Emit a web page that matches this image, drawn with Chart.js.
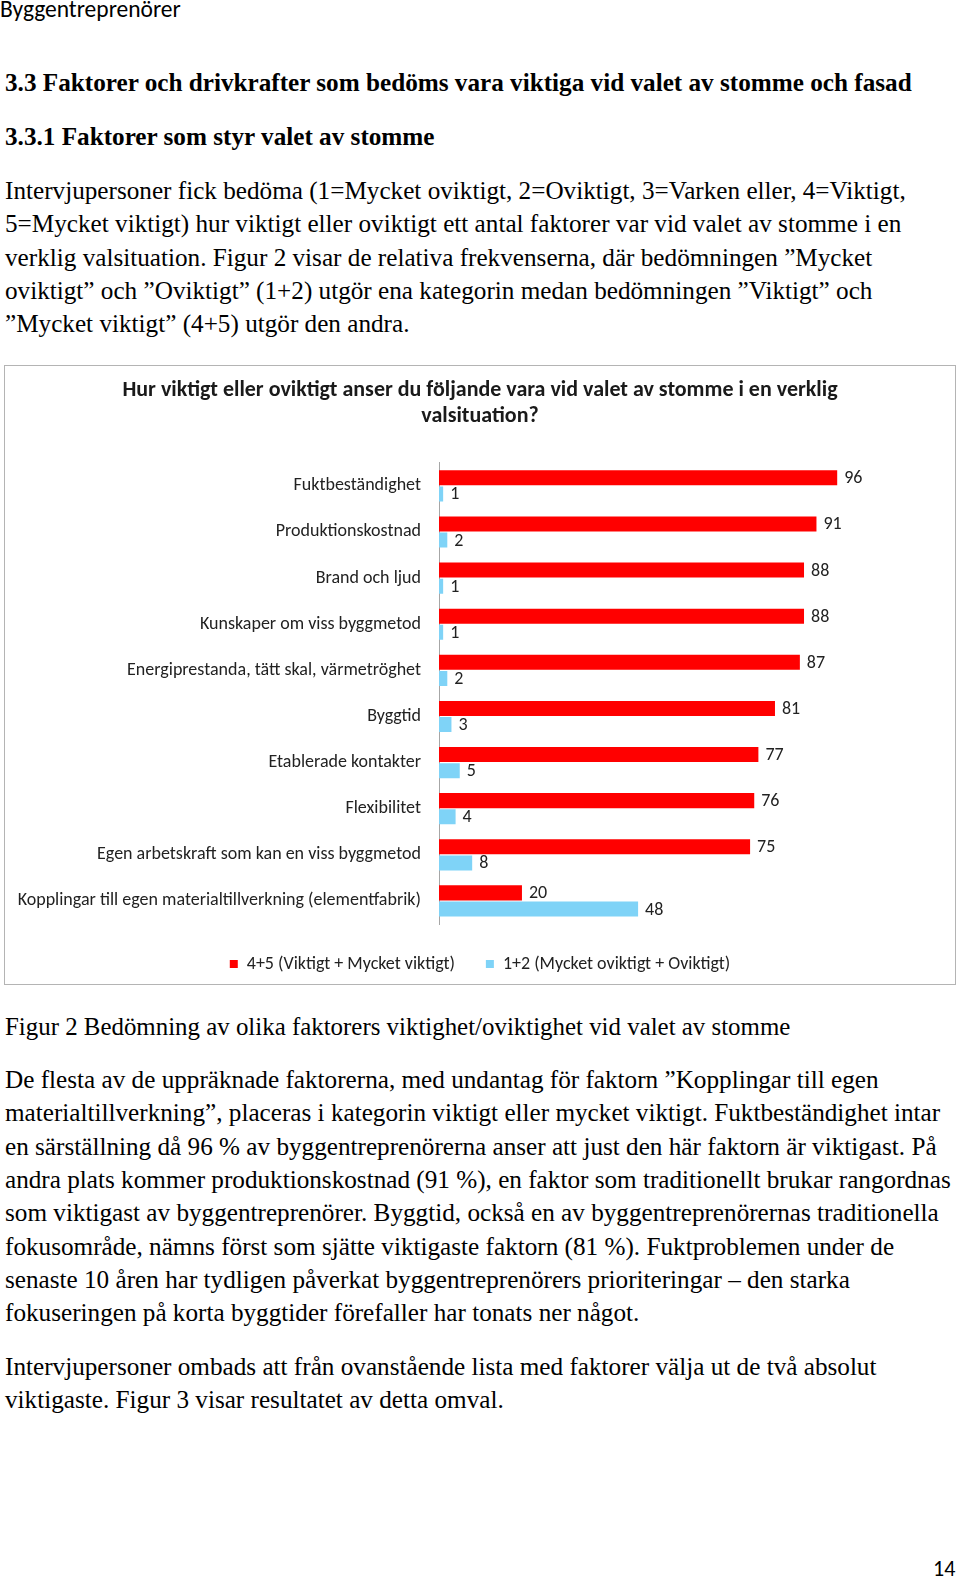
<!DOCTYPE html>
<html lang="sv">
<head>
<meta charset="utf-8">
<title>Faktorer som styr valet av stomme</title>
<script src="https://cdn.jsdelivr.net/npm/chart.js@4.4.1/dist/chart.umd.min.js"></script>
<style>
  html, body { margin: 0; padding: 0; background: #fff; }
  body { position: relative; width: 960px; height: 1581px; overflow: hidden; color: #000; }
  .sans { font-family: Carlito, Calibri, Lato, sans-serif; }
  .serif { font-family: 'Liberation Serif', 'Times New Roman', serif; font-size: 25.2px; white-space: nowrap; }
  .abs { position: absolute; left: 5px; }
  .head { font-weight: bold; line-height: 34px; }
  .para { line-height: 33.35px; }
  #chartBox { position: absolute; left: 4px; top: 365px; width: 950px; height: 618px; border: 1px solid #b4b4b4; }
  #pageNo { position: absolute; left: 933px; top: 1556px; font-size: 22px; line-height: 26px; }
</style>
</head>
<body>

<div class="abs sans" style="left:0px; top:-4px; font-size:23.5px; line-height:26px;">Byggentreprenörer</div>

<div class="abs serif head" style="top:66px;">3.3 Faktorer och drivkrafter som bedöms vara viktiga vid valet av stomme och fasad</div>
<div class="abs serif head" style="top:120px;">3.3.1 Faktorer som styr valet av stomme</div>

<div class="abs serif para" style="top:174px;">
Intervjupersoner fick bedöma (1=Mycket oviktigt, 2=Oviktigt, 3=Varken eller, 4=Viktigt,<br>
5=Mycket viktigt) hur viktigt eller oviktigt ett antal faktorer var vid valet av stomme i en<br>
verklig valsituation. Figur 2 visar de relativa frekvenserna, där bedömningen ”Mycket<br>
oviktigt” och ”Oviktigt” (1+2) utgör ena kategorin medan bedömningen ”Viktigt” och<br>
”Mycket viktigt” (4+5) utgör den andra.
</div>

<div id="chartBox"><canvas id="barChart" width="950" height="618"></canvas></div>

<div class="abs serif para" style="top:1010px; font-size:24.9px;">Figur 2 Bedömning av olika faktorers viktighet/oviktighet vid valet av stomme</div>

<div class="abs serif para" style="top:1063px;">
De flesta av de uppräknade faktorerna, med undantag för faktorn ”Kopplingar till egen<br>
materialtillverkning”, placeras i kategorin viktigt eller mycket viktigt. Fuktbeständighet intar<br>
en särställning då 96 % av byggentreprenörerna anser att just den här faktorn är viktigast. På<br>
andra plats kommer produktionskostnad (91 %), en faktor som traditionellt brukar rangordnas<br>
som viktigast av byggentreprenörer. Byggtid, också en av byggentreprenörernas traditionella<br>
fokusområde, nämns först som sjätte viktigaste faktorn (81 %). Fuktproblemen under de<br>
senaste 10 åren har tydligen påverkat byggentreprenörers prioriteringar – den starka<br>
fokuseringen på korta byggtider förefaller har tonats ner något.
</div>

<div class="abs serif para" style="top:1350px;">
Intervjupersoner ombads att från ovanstående lista med faktorer välja ut de två absolut<br>
viktigaste. Figur 3 visar resultatet av detta omval.
</div>

<div id="pageNo" class="sans">14</div>

<script>
// data (percent of respondents)
const factors = [
    'Fuktbeständighet',
    'Produktionskostnad',
    'Brand och ljud',
    'Kunskaper om viss byggmetod',
    'Energiprestanda, tätt skal, värmetröghet',
    'Byggtid',
    'Etablerade kontakter',
    'Flexibilitet',
    'Egen arbetskraft som kan en viss byggmetod',
    'Kopplingar till egen materialtillverkning (elementfabrik)'
];
const important = [96, 91, 88, 88, 87, 81, 77, 76, 75, 20];
const unimportant = [1, 2, 1, 1, 2, 3, 5, 4, 8, 48];
const seriesNames = ['4+5 (Viktigt + Mycket viktigt)', '1+2 (Mycket oviktigt + Oviktigt)'];
const chartTitle = ['Hur viktigt eller oviktigt anser du följande vara vid valet av stomme i en verklig', 'valsituation?'];

const fontFamily = 'Carlito, Calibri, Lato, sans-serif';
const textColor = '#222222';

// writes the value right of each bar, like the Excel data labels
const barValues = {
    id: 'barValues',
    afterDatasetsDraw(chart) {
        const ctx = chart.ctx;
        ctx.save();
        ctx.font = '18px ' + fontFamily;
        ctx.fillStyle = textColor;
        ctx.textAlign = 'left';
        ctx.textBaseline = 'middle';
        chart.data.datasets.forEach((ds, i) => {
            chart.getDatasetMeta(i).data.forEach((bar, j) => {
                ctx.fillText(ds.data[j], bar.x + 7, bar.y + 1);
            });
        });
        ctx.restore();
    }
};

let ctx = document.getElementById('barChart').getContext('2d');
let barChart = new Chart(ctx, {
    type: 'bar',
    data: {
        labels: factors,
        datasets: [{
            label: seriesNames[0],
            data: important,
            backgroundColor: '#ff0000',
            categoryPercentage: 0.7,
            barPercentage: 0.93
        }, {
            label: seriesNames[1],
            data: unimportant,
            backgroundColor: '#7fd3f7',
            categoryPercentage: 0.7,
            barPercentage: 0.93
        }]
    },
    options: {
        indexAxis: 'y',
        responsive: false,
        animation: false,
        layout: { padding: { left: 0, right: 0, top: 0, bottom: 1 } },
        scales: {
            x: {
                display: false,
                min: 0,
                max: 124.4
            },
            y: {
                grid: { display: false, drawTicks: false },
                border: { display: true, color: '#a6a6a6', width: 1 },
                ticks: {
                    autoSkip: false,
                    padding: 18,
                    color: textColor,
                    font: { family: fontFamily, size: 18 }
                },
                afterFit(scale) { scale.width = 434; }
            }
        },
        plugins: {
            title: {
                display: true,
                text: chartTitle,
                color: '#1a1a1a',
                font: { family: fontFamily, size: 22, weight: 'bold', lineHeight: 1.2 },
                padding: { top: 11, bottom: 33 }
            },
            legend: {
                position: 'bottom',
                labels: {
                    boxWidth: 8,
                    boxHeight: 8,
                    padding: 31,
                    color: textColor,
                    font: { family: fontFamily, size: 18 }
                }
            },
            tooltip: { enabled: false }
        }
    },
    plugins: [barValues]
});
</script>
</body>
</html>
